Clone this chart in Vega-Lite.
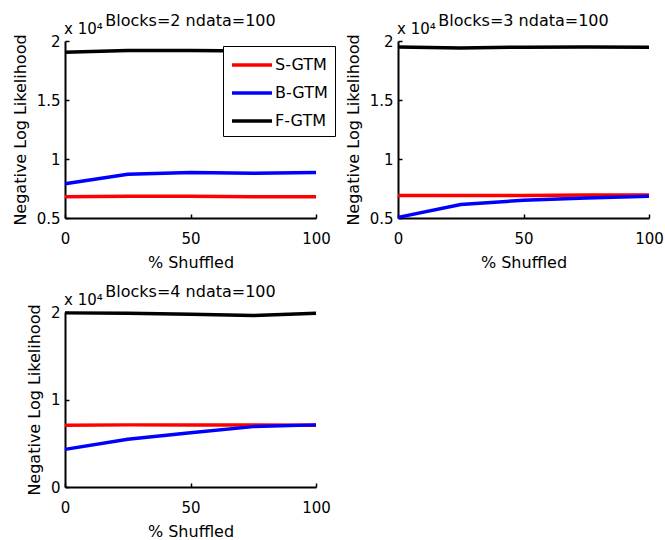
{
  "$schema": "https://vega.github.io/schema/vega-lite/v6.json",
  "background": "white",
  "padding": {"left": 12, "top": 13, "right": 2, "bottom": 2},
  "config": {
    "view": {"stroke": null},
    "font": "DejaVu Sans",
    "axis": {
      "grid": false,
      "domainColor": "black",
      "domainWidth": 2,
      "tickColor": "black",
      "tickWidth": 1.5,
      "tickSize": -4,
      "labelFlush": false,
      "labelColor": "black",
      "titleColor": "black",
      "labelFont": "DejaVu Sans",
      "labelFontSize": 15,
      "titleFont": "DejaVu Sans",
      "titleFontSize": 16,
      "titleFontWeight": "normal"
    },
    "axisX": {"labelPadding": 17, "titlePadding": 8},
    "axisY": {"labelPadding": 9, "titlePadding": 8},
    "title": {"font": "DejaVu Sans", "fontSize": 16, "fontWeight": "normal", "color": "black", "anchor": "middle", "offset": -7}
  },
  "datasets": {
    "nll": [
      {"blocks": 2, "model": "S-GTM", "shuffled": 0, "nll": 6800},
      {"blocks": 2, "model": "S-GTM", "shuffled": 25, "nll": 6850},
      {"blocks": 2, "model": "S-GTM", "shuffled": 50, "nll": 6850},
      {"blocks": 2, "model": "S-GTM", "shuffled": 75, "nll": 6800},
      {"blocks": 2, "model": "S-GTM", "shuffled": 100, "nll": 6800},
      {"blocks": 2, "model": "B-GTM", "shuffled": 0, "nll": 7900},
      {"blocks": 2, "model": "B-GTM", "shuffled": 25, "nll": 8700},
      {"blocks": 2, "model": "B-GTM", "shuffled": 50, "nll": 8850},
      {"blocks": 2, "model": "B-GTM", "shuffled": 75, "nll": 8800},
      {"blocks": 2, "model": "B-GTM", "shuffled": 100, "nll": 8850},
      {"blocks": 2, "model": "F-GTM", "shuffled": 0, "nll": 19050},
      {"blocks": 2, "model": "F-GTM", "shuffled": 25, "nll": 19200},
      {"blocks": 2, "model": "F-GTM", "shuffled": 50, "nll": 19200},
      {"blocks": 2, "model": "F-GTM", "shuffled": 75, "nll": 19150},
      {"blocks": 2, "model": "F-GTM", "shuffled": 100, "nll": 19150},
      {"blocks": 3, "model": "S-GTM", "shuffled": 0, "nll": 6900},
      {"blocks": 3, "model": "S-GTM", "shuffled": 25, "nll": 6900},
      {"blocks": 3, "model": "S-GTM", "shuffled": 50, "nll": 6900},
      {"blocks": 3, "model": "S-GTM", "shuffled": 75, "nll": 6950},
      {"blocks": 3, "model": "S-GTM", "shuffled": 100, "nll": 6950},
      {"blocks": 3, "model": "B-GTM", "shuffled": 0, "nll": 5050},
      {"blocks": 3, "model": "B-GTM", "shuffled": 25, "nll": 6150},
      {"blocks": 3, "model": "B-GTM", "shuffled": 50, "nll": 6500},
      {"blocks": 3, "model": "B-GTM", "shuffled": 75, "nll": 6700},
      {"blocks": 3, "model": "B-GTM", "shuffled": 100, "nll": 6850},
      {"blocks": 3, "model": "F-GTM", "shuffled": 0, "nll": 19500},
      {"blocks": 3, "model": "F-GTM", "shuffled": 25, "nll": 19400},
      {"blocks": 3, "model": "F-GTM", "shuffled": 50, "nll": 19480},
      {"blocks": 3, "model": "F-GTM", "shuffled": 75, "nll": 19500},
      {"blocks": 3, "model": "F-GTM", "shuffled": 100, "nll": 19480},
      {"blocks": 4, "model": "S-GTM", "shuffled": 0, "nll": 7050},
      {"blocks": 4, "model": "S-GTM", "shuffled": 25, "nll": 7100},
      {"blocks": 4, "model": "S-GTM", "shuffled": 50, "nll": 7080},
      {"blocks": 4, "model": "S-GTM", "shuffled": 75, "nll": 7080},
      {"blocks": 4, "model": "S-GTM", "shuffled": 100, "nll": 7050},
      {"blocks": 4, "model": "B-GTM", "shuffled": 0, "nll": 4300},
      {"blocks": 4, "model": "B-GTM", "shuffled": 25, "nll": 5450},
      {"blocks": 4, "model": "B-GTM", "shuffled": 50, "nll": 6200},
      {"blocks": 4, "model": "B-GTM", "shuffled": 75, "nll": 6900},
      {"blocks": 4, "model": "B-GTM", "shuffled": 100, "nll": 7100},
      {"blocks": 4, "model": "F-GTM", "shuffled": 0, "nll": 19900},
      {"blocks": 4, "model": "F-GTM", "shuffled": 25, "nll": 19850},
      {"blocks": 4, "model": "F-GTM", "shuffled": 50, "nll": 19750},
      {"blocks": 4, "model": "F-GTM", "shuffled": 75, "nll": 19600},
      {"blocks": 4, "model": "F-GTM", "shuffled": 100, "nll": 19850}
    ]
  },
  "columns": 2,
  "spacing": {"row": 94, "column": 82},
  "bounds": "flush",
  "resolve": {"legend": {"color": "independent"}},
  "concat": [
    {
      "width": 251, "height": 177,
      "title": {"text": "Blocks=2 ndata=100"},
      "layer": [
        {
          "data": {"name": "nll"},
          "transform": [{"filter": "datum.blocks == 2"}],
          "mark": {"type": "line", "strokeWidth": 3.5},
          "encoding": {
            "x": {"field": "shuffled", "type": "quantitative", "scale": {"domain": [0, 100], "nice": false}, "axis": {"values": [0, 50, 100], "title": "% Shuffled"}},
            "y": {"field": "nll", "type": "quantitative", "scale": {"domain": [5000, 20000], "nice": false, "zero": false}, "axis": {"values": [5000, 10000, 15000, 20000], "labelExpr": "datum.value / 10000 + ''", "title": "Negative Log Likelihood"}},
            "color": {"field": "model", "type": "nominal", "sort": ["S-GTM", "B-GTM", "F-GTM"],
              "scale": {"domain": ["S-GTM", "B-GTM", "F-GTM"], "range": ["#ff0000", "#0000ff", "#000000"]},
              "legend": {"orient": "none", "legendX": 158, "legendY": 5, "title": null, "symbolType": "M-2,0H2", "symbolStrokeWidth": 3.5, "symbolSize": 400, "symbolOffset": 10, "labelFont": "DejaVu Sans", "labelFontSize": 16, "labelColor": "black", "strokeColor": "black", "fillColor": "white", "padding": 7, "rowPadding": 8, "labelOffset": 11}
            }
          }
        },
        {
          "data": {"values": [{"label": "x 10⁴"}]},
          "mark": {"type": "text", "align": "left", "baseline": "alphabetic", "dy": -7, "dx": -1, "fontSize": 15, "font": "DejaVu Sans", "color": "black"},
          "encoding": {"x": {"datum": 0}, "y": {"datum": 20000}, "text": {"field": "label"}}
        }
      ]
    },
    {
      "width": 251, "height": 177,
      "title": {"text": "Blocks=3 ndata=100"},
      "layer": [
        {
          "data": {"name": "nll"},
          "transform": [{"filter": "datum.blocks == 3"}],
          "mark": {"type": "line", "strokeWidth": 3.5},
          "encoding": {
            "x": {"field": "shuffled", "type": "quantitative", "scale": {"domain": [0, 100], "nice": false}, "axis": {"values": [0, 50, 100], "title": "% Shuffled"}},
            "y": {"field": "nll", "type": "quantitative", "scale": {"domain": [5000, 20000], "nice": false, "zero": false}, "axis": {"values": [5000, 10000, 15000, 20000], "labelExpr": "datum.value / 10000 + ''", "title": "Negative Log Likelihood"}},
            "color": {"field": "model", "type": "nominal", "sort": ["S-GTM", "B-GTM", "F-GTM"],
              "scale": {"domain": ["S-GTM", "B-GTM", "F-GTM"], "range": ["#ff0000", "#0000ff", "#000000"]},
              "legend": null
            }
          }
        },
        {
          "data": {"values": [{"label": "x 10⁴"}]},
          "mark": {"type": "text", "align": "left", "baseline": "alphabetic", "dy": -7, "dx": -1, "fontSize": 15, "font": "DejaVu Sans", "color": "black"},
          "encoding": {"x": {"datum": 0}, "y": {"datum": 20000}, "text": {"field": "label"}}
        }
      ]
    },
    {
      "width": 251, "height": 175,
      "title": {"text": "Blocks=4 ndata=100"},
      "layer": [
        {
          "data": {"name": "nll"},
          "transform": [{"filter": "datum.blocks == 4"}],
          "mark": {"type": "line", "strokeWidth": 3.5},
          "encoding": {
            "x": {"field": "shuffled", "type": "quantitative", "scale": {"domain": [0, 100], "nice": false}, "axis": {"values": [0, 50, 100], "title": "% Shuffled"}},
            "y": {"field": "nll", "type": "quantitative", "scale": {"domain": [0, 20000], "nice": false}, "axis": {"values": [0, 10000, 20000], "labelExpr": "datum.value / 10000 + ''", "title": "Negative Log Likelihood"}},
            "color": {"field": "model", "type": "nominal", "sort": ["S-GTM", "B-GTM", "F-GTM"],
              "scale": {"domain": ["S-GTM", "B-GTM", "F-GTM"], "range": ["#ff0000", "#0000ff", "#000000"]},
              "legend": null
            }
          }
        },
        {
          "data": {"values": [{"label": "x 10⁴"}]},
          "mark": {"type": "text", "align": "left", "baseline": "alphabetic", "dy": -7, "dx": -1, "fontSize": 15, "font": "DejaVu Sans", "color": "black"},
          "encoding": {"x": {"datum": 0}, "y": {"datum": 20000}, "text": {"field": "label"}}
        }
      ]
    }
  ]
}
